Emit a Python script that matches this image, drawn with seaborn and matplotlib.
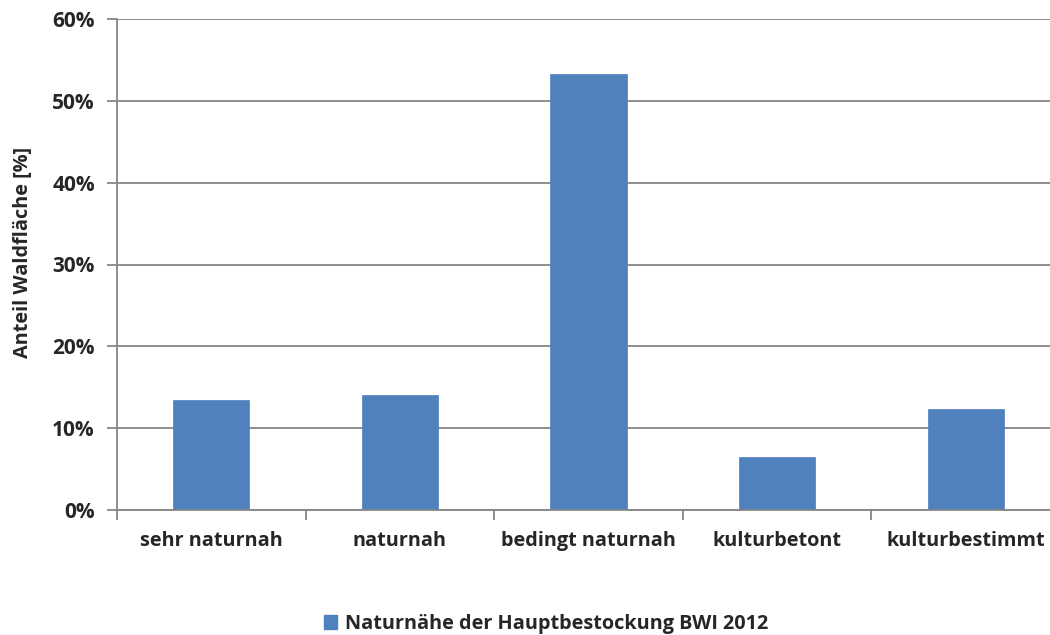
import matplotlib
matplotlib.use("Agg")
import matplotlib.pyplot as plt
import seaborn as sns
import pandas as pd
from matplotlib.patches import Patch
from matplotlib.ticker import FuncFormatter, MultipleLocator

categories = ["sehr naturnah", "naturnah", "bedingt naturnah", "kulturbetont", "kulturbestimmt"]
values = [13.4, 14.1, 53.3, 6.5, 12.3]
series_name = "Naturnähe der Hauptbestockung BWI 2012"
y_label = "Anteil Waldfläche [%]"

sns.set_style("white")
plt.rcParams['font.family'] = ['Open Sans', 'DejaVu Sans']
plt.rcParams['font.weight'] = 'bold'

FS = 14.3

df = pd.DataFrame({"cat": categories, "val": values})

fig = plt.figure(figsize=(10.5, 6.35), dpi=100)
ax = fig.add_axes([117/1050, (635-510)/635, (1060-117)/1050, (510-19)/635])

sns.barplot(data=df, x="cat", y="val", color="#4F81BD", width=0.405, ax=ax,
            saturation=1, edgecolor="#4F81BD", linewidth=0.5)

ax.set_ylim(0, 60)
ax.set_xlim(-0.5, 4.5)
ax.yaxis.set_major_locator(MultipleLocator(10))
ax.yaxis.set_major_formatter(FuncFormatter(lambda v, p: f"{int(v)}%"))
ax.grid(axis="y", color="#868686", linewidth=1.3)
ax.set_axisbelow(True)
for s in ["top", "right"]:
    ax.spines[s].set_visible(False)
for s in ["left", "bottom"]:
    ax.spines[s].set_color("#868686")
    ax.spines[s].set_linewidth(1.3)

ax.tick_params(axis="y", length=7, width=1.3, color="#868686", labelsize=15, pad=9, left=True)
ax.tick_params(axis="x", which="major", length=0, labelsize=FS, pad=15)
ax.set_xticks([i - 0.5 for i in range(6)], minor=True)
ax.tick_params(axis="x", which="minor", length=7, width=1.3, color="#868686", bottom=True)
for lab in ax.get_xticklabels() + ax.get_yticklabels():
    lab.set_fontweight("bold")

ax.set_xlabel("")
ax.set_ylabel(y_label, fontsize=FS, fontweight="bold")
ax.yaxis.set_label_coords(-0.089, 0.525)

handle = Patch(facecolor="#4F81BD", edgecolor="#4F81BD")
fig.legend([handle], [series_name], loc="center", bbox_to_anchor=(0.52, (635-624)/635),
           frameon=False, prop={"size": FS, "weight": "bold"}, handlelength=0.65, handleheight=0.65,
           handletextpad=0.4)

fig.savefig("out.png", dpi=100)
